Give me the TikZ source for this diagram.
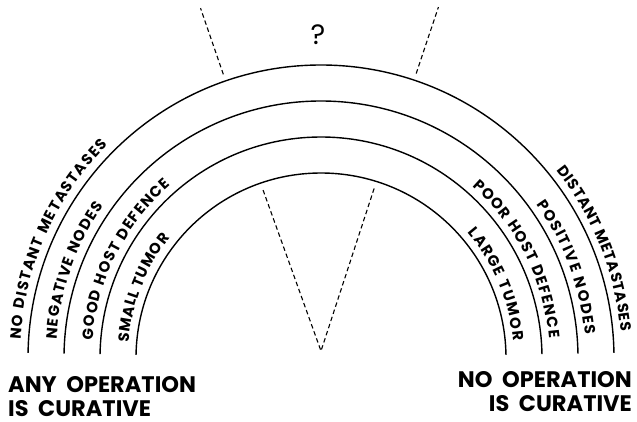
\documentclass[tikz,border=0pt]{standalone}
\usepackage{fontspec}
\setmainfont{Poppins}
\usepackage{tikz}
\usetikzlibrary{decorations.text,calc}

\newcommand{\arclblfont}{\bfseries\fontsize{15}{15}\selectfont}

\begin{document}
\begin{tikzpicture}[x=1pt, y=1pt,
  ring/.style={line width=1.4pt},
  cut/.style={line width=1.1pt, dash pattern=on 4.5pt off 3pt},
  verdict/.style={font=\bfseries\fontsize{22.5}{24}\selectfont, inner sep=0pt, align=left},
  arclbl/.style={decorate, decoration={text along path, text align=fit to path,
                 text={|\arclblfont|#1}}}]
\useasboundingbox (0,0) rectangle (637,421);
\coordinate (C) at (321,63);
\coordinate (apex) at (321,70);

% the four rings
\foreach \r in {293,257,221,185}
  \draw[ring] ([shift={(179:\r)}]C) arc[start angle=179, end angle=1, radius=\r];

% dashed cuts
\coordinate (ul1) at ([shift={(109:300)}]C);
\coordinate (ul2) at ([shift={(109:370)}]C);
\coordinate (ur1) at ([shift={(71.5:300)}]C);
\coordinate (ur2) at ([shift={(71.5:370)}]C);
\coordinate (vl) at ([shift={(109.8:171)}]apex);
\coordinate (vr) at ([shift={(71.9:173)}]apex);
\draw[cut] (ul1) -- (ul2);
\draw[cut] (ur1) -- (ur2);
\draw[cut] (vl) -- (apex) -- (vr);
\node[font=\fontsize{28}{28}\selectfont, inner sep=0pt] (ask) at (318,386) {?};

% left labels
\path[arclbl={NO DISTANT METASTASES}] ([shift={(176.5:301)}]C) arc[start angle=176.5, end angle=135, radius=301];
\path[arclbl={NEGATIVE NODES}] ([shift={(176:265)}]C) arc[start angle=176, end angle=145, radius=265];
\path[arclbl={GOOD HOST DEFENCE}] ([shift={(175.5:229)}]C) arc[start angle=175.5, end angle=131, radius=229];
\path[arclbl={SMALL TUMOR}] ([shift={(175.5:193)}]C) arc[start angle=175.5, end angle=141.5, radius=193];

% right labels
\path[arclbl={DISTANT METASTASES}] ([shift={(38.5:301)}]C) arc[start angle=38.5, end angle=5, radius=301];
\path[arclbl={POSITIVE NODES}] ([shift={(35.5:265)}]C) arc[start angle=35.5, end angle=5, radius=265];
\path[arclbl={POOR HOST DEFENCE}] ([shift={(48.5:229)}]C) arc[start angle=48.5, end angle=5, radius=229];
\path[arclbl={LARGE TUMOR}] ([shift={(40.5:193)}]C) arc[start angle=40.5, end angle=5, radius=193];

% verdicts
\node[verdict, anchor=north west] (anyop) at (8,45) {ANY\ \ OPERATION\\IS\ \ CURATIVE};
\node[verdict, anchor=north east, align=right] (noop) at (632,50) {NO\ \ OPERATION\\IS\ \ CURATIVE};
\end{tikzpicture}
\end{document}
